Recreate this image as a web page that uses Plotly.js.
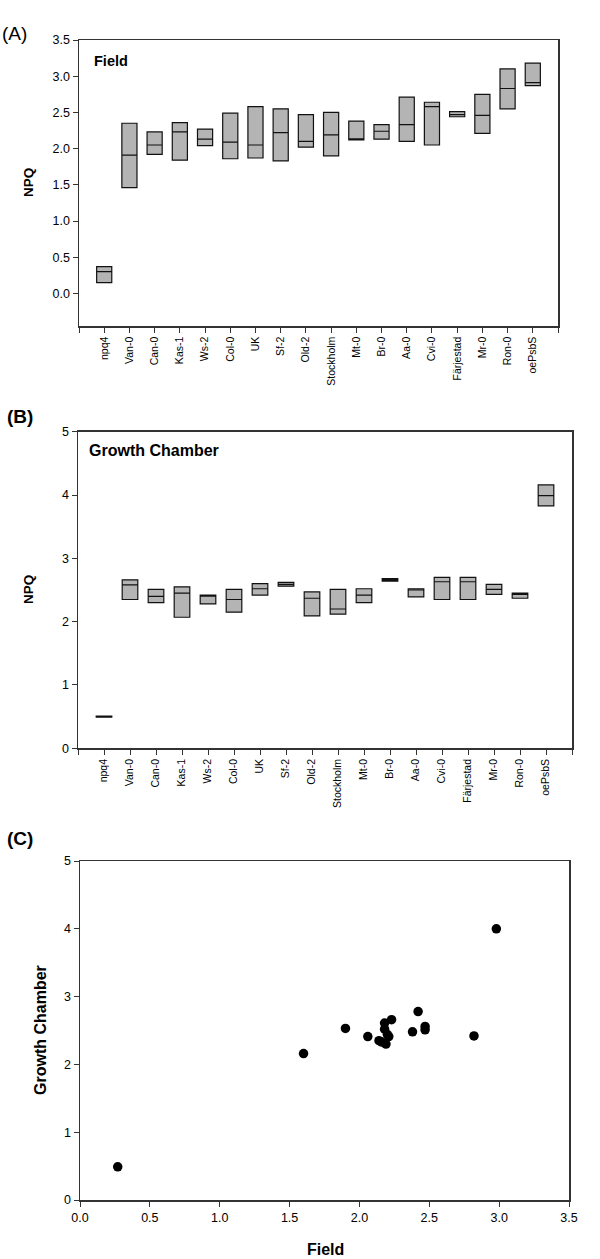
<!DOCTYPE html>
<html>
<head>
<meta charset="utf-8">
<script src="https://cdn.plot.ly/plotly-3.0.1.min.js"></script>
<style>html,body{margin:0;padding:0;background:#fff;}#chart{width:600px;height:1259px;}</style>
</head>
<body>
<div id="chart"></div>
<script>
// ---- data ----
const categories = ['npq4','Van-0','Can-0','Kas-1','Ws-2','Col-0','UK','Sf-2','Old-2','Stockholm','Mt-0','Br-0','Aa-0','Cvi-0','Färjestad','Mr-0','Ron-0','oePsbS'];

const fieldQ1  = [0.15,1.46,1.92,1.84,2.04,1.86,1.87,1.83,2.02,1.90,2.12,2.13,2.10,2.05,2.44,2.21,2.55,2.87];
const fieldMed = [0.30,1.91,2.05,2.23,2.13,2.09,2.05,2.22,2.10,2.19,2.135,2.24,2.33,2.58,2.47,2.46,2.83,2.91];
const fieldQ3  = [0.37,2.35,2.23,2.36,2.27,2.49,2.58,2.55,2.47,2.50,2.38,2.33,2.71,2.64,2.51,2.75,3.10,3.18];

const chamberQ1  = [0.49,2.35,2.30,2.07,2.28,2.15,2.42,2.56,2.09,2.12,2.30,2.64,2.39,2.35,2.35,2.43,2.37,3.83];
const chamberMed = [0.50,2.58,2.40,2.45,2.41,2.35,2.52,2.59,2.37,2.20,2.42,2.66,2.50,2.63,2.63,2.51,2.43,3.99];
const chamberQ3  = [0.51,2.66,2.51,2.55,2.42,2.51,2.60,2.62,2.47,2.51,2.52,2.68,2.52,2.70,2.70,2.59,2.45,4.16];

const scatterField   = [0.27,1.60,1.90,2.06,2.14,2.16,2.18,2.18,2.21,2.19,2.23,2.20,2.38,2.42,2.47,2.47,2.82,2.98];
const scatterChamber = [0.49,2.16,2.53,2.41,2.35,2.33,2.61,2.52,2.41,2.30,2.66,2.44,2.48,2.78,2.56,2.51,2.42,4.00];

const yTicksA = [0.0,0.5,1.0,1.5,2.0,2.5,3.0,3.5];
const yTicksB = [0,1,2,3,4,5];
const xTicksC = [0.0,0.5,1.0,1.5,2.0,2.5,3.0,3.5];
const yTicksC = [0,1,2,3,4,5];

// ---- build ----
const idx = categories.map((c,i)=>i);
const tickIdx = [-1].concat(idx).concat([categories.length]);
const tickTxt = [''].concat(categories).concat(['']);

const FONT = 'Liberation Sans, Arial, sans-serif';
const boxStyle = {
  type:'box', boxpoints:false, width:0.6, whiskerwidth:0,
  fillcolor:'#b4b4b4', line:{color:'#111', width:1.2},
  hoverinfo:'skip', showlegend:false
};

const traces = [
  Object.assign({}, boxStyle, {
    x: idx, q1: fieldQ1, median: fieldMed, q3: fieldQ3,
    lowerfence: fieldQ1, upperfence: fieldQ3, xaxis:'x', yaxis:'y'
  }),
  Object.assign({}, boxStyle, {
    x: idx, q1: chamberQ1, median: chamberMed, q3: chamberQ3,
    lowerfence: chamberQ1, upperfence: chamberQ3, xaxis:'x2', yaxis:'y2'
  }),
  {
    type:'scatter', mode:'markers', x: scatterField, y: scatterChamber,
    marker:{color:'#000', size:9.5}, xaxis:'x3', yaxis:'y3', showlegend:false, hoverinfo:'skip'
  }
];

const axBase = {
  showgrid:false, zeroline:false, showline:true, linecolor:'#333', linewidth:1.5,
  mirror:true, ticks:'outside', ticklen:5, tickwidth:1, tickcolor:'#333',
  tickfont:{family:FONT, size:12.5, color:'#000'}, fixedrange:true
};
const catAx = Object.assign({}, axBase, {
  tickmode:'array', tickvals: tickIdx, ticktext: tickTxt, tickangle:-90,
  tickfont:{family:FONT, size:10.5, color:'#000'}
});

const layout = {
  width:600, height:1259, margin:{l:0,r:0,t:0,b:0},
  paper_bgcolor:'#fff', plot_bgcolor:'#fff',
  font:{family:FONT, color:'#000'},
  xaxis: Object.assign({}, catAx, {domain:[79/600, 558/600], range:[-1, 18], anchor:'y'}),
  yaxis: Object.assign({}, axBase, {domain:[1-326/1259, 1-40/1259], range:[-0.45, 3.5],
          tickmode:'array', tickvals:yTicksA, ticktext:yTicksA.map(v=>v.toFixed(1)), anchor:'x'}),
  xaxis2: Object.assign({}, catAx, {domain:[78/600, 572/600], range:[-1, 18], anchor:'y2'}),
  yaxis2: Object.assign({}, axBase, {domain:[1-748.3/1259, 1-431.7/1259], range:[0, 5],
          tickmode:'array', tickvals:yTicksB, ticktext:yTicksB.map(String), anchor:'x2'}),
  xaxis3: Object.assign({}, axBase, {domain:[80/600, 569/600], range:[0, 3.5],
          tickmode:'array', tickvals:xTicksC, ticktext:xTicksC.map(v=>v.toFixed(1)), anchor:'y3'}),
  yaxis3: Object.assign({}, axBase, {domain:[1-1200/1259, 1-861/1259], range:[0, 5],
          tickmode:'array', tickvals:yTicksC, ticktext:yTicksC.map(String), anchor:'x3'}),
  annotations: [
    {text:'(A)', x:0/600, y:1-34/1259, xref:'paper', yref:'paper', xanchor:'left', yanchor:'middle', showarrow:false, font:{family:FONT, size:19}},
    {text:'<b>(B)</b>', x:5/600, y:1-416/1259, xref:'paper', yref:'paper', xanchor:'left', yanchor:'middle', showarrow:false, font:{family:FONT, size:19}},
    {text:'<b>(C)</b>', x:5/600, y:1-838/1259, xref:'paper', yref:'paper', xanchor:'left', yanchor:'middle', showarrow:false, font:{family:FONT, size:19}},
    {text:'<b>Field</b>', x:92/600, y:1-61/1259, xref:'paper', yref:'paper', xanchor:'left', yanchor:'middle', showarrow:false, font:{family:FONT, size:14.5}},
    {text:'<b>Growth Chamber</b>', x:87/600, y:1-451/1259, xref:'paper', yref:'paper', xanchor:'left', yanchor:'middle', showarrow:false, font:{family:FONT, size:16}},
    {text:'<b>NPQ</b>', x:28/600, y:1-183/1259, xref:'paper', yref:'paper', xanchor:'center', yanchor:'middle', textangle:-90, showarrow:false, font:{family:FONT, size:13.5}},
    {text:'<b>NPQ</b>', x:28/600, y:1-590/1259, xref:'paper', yref:'paper', xanchor:'center', yanchor:'middle', textangle:-90, showarrow:false, font:{family:FONT, size:13.5}},
    {text:'<b>Growth Chamber</b>', x:40/600, y:1-1030/1259, xref:'paper', yref:'paper', xanchor:'center', yanchor:'middle', textangle:-90, showarrow:false, font:{family:FONT, size:16}},
    {text:'<b>Field</b>', x:325/600, y:1-1249/1259, xref:'paper', yref:'paper', xanchor:'center', yanchor:'middle', showarrow:false, font:{family:FONT, size:16}}
  ]
};

Plotly.newPlot('chart', traces, layout, {displayModeBar:false, staticPlot:true});
</script>
</body>
</html>
